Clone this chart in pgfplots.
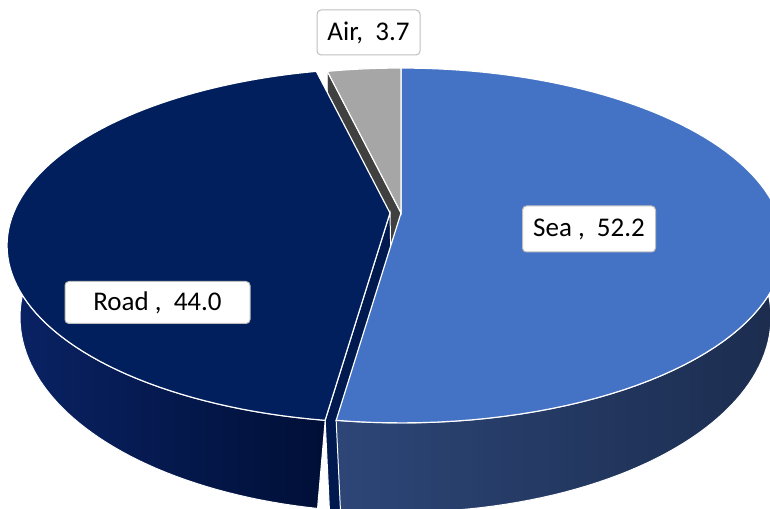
\documentclass[border=0pt]{standalone}
\usepackage{pgfplots}
\pgfplotsset{compat=1.18}
\usepackage{fontspec}
\setmainfont{Carlito}
\definecolor{seatop}{HTML}{4472C4}
\definecolor{sealeft}{HTML}{2D4677}
\definecolor{searight}{HTML}{1B2C4E}
\definecolor{roadtop}{HTML}{001F5C}
\definecolor{roadleft}{HTML}{0A2365}
\definecolor{roadright}{HTML}{000F37}
\definecolor{roadface}{HTML}{001A50}
\definecolor{airtop}{HTML}{A6A6A6}
\definecolor{airface}{HTML}{404040}
\definecolor{lblborder}{HTML}{BFBFBF}
\tikzset{lbl/.style={draw=lblborder, fill=white, rounded corners=2pt, line width=0.5pt,
    inner sep=0pt, font=\fontsize{13.5}{16}\selectfont, text=black, align=center}}
% data (share, %)
\def\vSea{52.2}
\def\vRoad{44.0}
\def\vAir{3.7}
\pgfmathsetmacro\tot{\vSea+\vRoad+\vAir}
\pgfmathsetmacro\aSeaEnd{90-\vSea/\tot*360}
\pgfmathsetmacro\aAirEnd{90+\vAir/\tot*360}
\pgfmathsetmacro\aRoadEnd{\aAirEnd+\vRoad/\tot*360}
% perspective ellipse of the top and bottom faces
\pgfmathdeclarefunction{tx}{2}{\pgfmathparse{#2+376.5*cos(#1)/(1+0.183*sin(#1))}}
\pgfmathdeclarefunction{ty}{1}{\pgfmathparse{295+171.5*sin(#1)/(1+0.183*sin(#1))}}
\pgfmathdeclarefunction{bx}{2}{\pgfmathparse{#2+365.8*cos(#1)/(1+0.15*sin(#1))}}
\pgfmathdeclarefunction{by}{1}{\pgfmathparse{220+190.6*sin(#1)/(1+0.15*sin(#1))}}
% corner points of the radial faces
\pgfmathsetmacro\ATx{401+376.5*cos(\aAirEnd)/(1+0.183*sin(\aAirEnd))}
\pgfmathsetmacro\ATy{295+171.5*sin(\aAirEnd)/(1+0.183*sin(\aAirEnd))}
\pgfmathsetmacro\ABx{401+365.8*cos(\aAirEnd)/(1+0.15*sin(\aAirEnd))}
\pgfmathsetmacro\ABy{220+190.6*sin(\aAirEnd)/(1+0.15*sin(\aAirEnd))}
\pgfmathsetmacro\RTx{390+376.5*cos(\aRoadEnd)/(1+0.183*sin(\aRoadEnd))}
\pgfmathsetmacro\RTy{295+171.5*sin(\aRoadEnd)/(1+0.183*sin(\aRoadEnd))}
\pgfmathsetmacro\RBx{390+365.8*cos(\aRoadEnd)/(1+0.15*sin(\aRoadEnd))}
\pgfmathsetmacro\RBy{220+190.6*sin(\aRoadEnd)/(1+0.15*sin(\aRoadEnd))}
\begin{document}
\begin{tikzpicture}
\begin{axis}[
  width=385pt, height=254pt, scale only axis,
  xmin=0, xmax=770, ymin=0, ymax=508,
  hide axis,
]
% Air radial face
\edef\airface{\noexpand\addplot[fill=airface, draw=white, line width=0.4pt]
  coordinates {(401,295) (\ATx,\ATy) (\ABx,\ABy) (401,220)} -- cycle;}
\airface
% Road radial face
\edef\roadfaceplot{\noexpand\addplot[fill=roadface, draw=white, line width=0.5pt]
  coordinates {(390,295) (\RTx,\RTy) (\RBx,\RBy) (396,-20)} -- cycle;}
\roadfaceplot
% Sea outer side
\pgfmathsetmacro\sa{\aSeaEnd}
\pgfmathsetmacro\sb{5}
\addplot[draw=white, line width=0.5pt, left color=sealeft, right color=searight,
  domain=0:2, samples=121, variable=\t]
  ({\t<1.0001 ? tx(\sa+\t*(\sb-\sa),401) : bx(\sb-(\t-1)*(\sb-\sa),401)},
   {\t<1.0001 ? ty(\sa+\t*(\sb-\sa)) : by(\sb-(\t-1)*(\sb-\sa))}) -- cycle;
% Sea top
\addplot[fill=seatop, draw=white, line width=0.6pt, domain=\aSeaEnd:90, samples=90, variable=\t]
  ({tx(\t,401)},{ty(\t)}) -- (axis cs:401,295) -- cycle;
% Air top
\addplot[fill=airtop, draw=white, line width=0.6pt, domain=90:\aAirEnd, samples=12, variable=\t]
  ({tx(\t,401)},{ty(\t)}) -- (axis cs:401,295) -- cycle;
% Road outer side
\pgfmathsetmacro\ra{165}
\pgfmathsetmacro\rb{\aRoadEnd}
\addplot[draw=white, line width=0.5pt, left color=roadleft, right color=roadright,
  domain=0:2, samples=121, variable=\t]
  ({\t<1.0001 ? tx(\ra+\t*(\rb-\ra),390) : bx(\rb-(\t-1)*(\rb-\ra),390)},
   {\t<1.0001 ? ty(\ra+\t*(\rb-\ra)) : by(\rb-(\t-1)*(\rb-\ra))}) -- cycle;
% Road top
\addplot[fill=roadtop, draw=white, line width=0.6pt, domain=\aAirEnd:\aRoadEnd, samples=90, variable=\t]
  ({tx(\t,390)},{ty(\t)}) -- (axis cs:390,295) -- cycle;
% labels
\node[lbl, minimum width=66.5pt, minimum height=23pt] at (axis cs:589,279) {Sea ,\ \ 52.2};
\node[lbl, minimum width=92.5pt, minimum height=21pt] at (axis cs:157.5,205.5) {Road ,\ \ 44.0};
\node[lbl, minimum width=51.5pt, minimum height=22.5pt] at (axis cs:368.5,475.5) {Air,\ \ 3.7};
\end{axis}
\pgfresetboundingbox
\path (current axis.south west) rectangle (current axis.north east);
\end{tikzpicture}
\end{document}
